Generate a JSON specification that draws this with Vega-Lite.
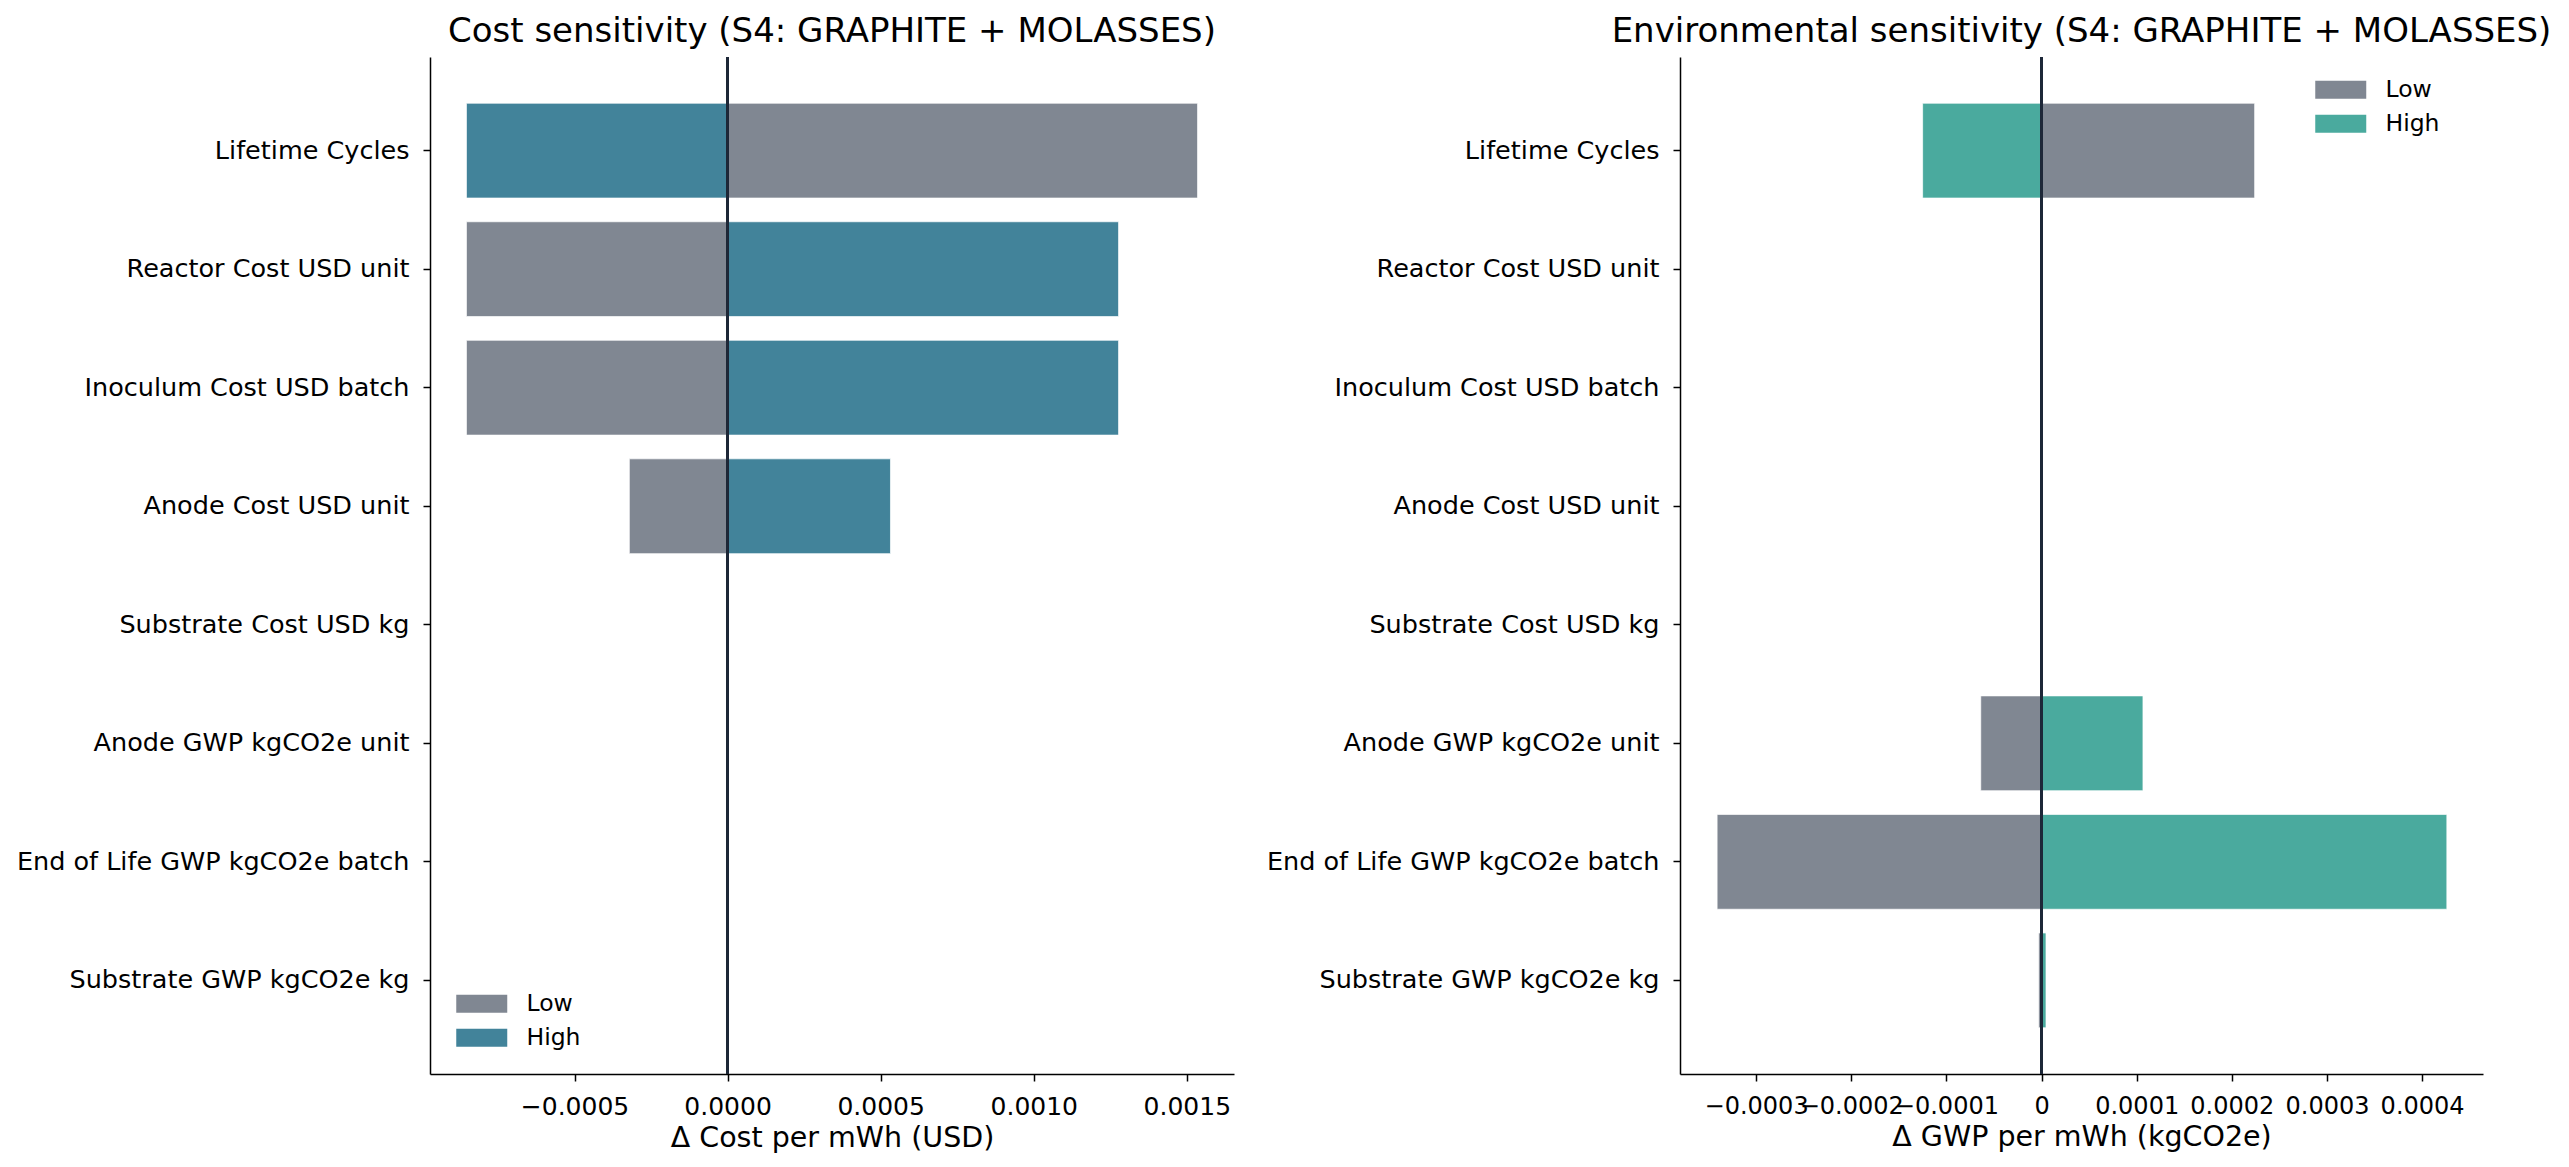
{
  "$schema": "https://vega.github.io/schema/vega-lite/v6.json",
  "background": "white",
  "padding": {"left": 16, "top": 15, "right": 5, "bottom": 5},
  "spacing": 32,
  "config": {
    "font": "DejaVu Sans",
    "view": {"stroke": null},
    "axis": {
      "domainColor": "black", "domainWidth": 1.5, "tickColor": "black", "tickWidth": 1.5, "tickSize": 7,
      "labelFont": "DejaVu Sans", "labelFontSize": 25, "labelColor": "black", "labelPadding": 7,
      "labelLimit": 1000, "labelOverlap": false,
      "titleFont": "DejaVu Sans", "titleFontSize": 28.5, "titleColor": "black", "titleFontWeight": "normal",
      "grid": false
    },
    "axisY": {"labelFontSize": 25.5, "labelPadding": 14},
    "axisX": {"labelPadding": 13, "titlePadding": 4},
    "title": {"font": "DejaVu Sans", "fontSize": 34, "fontWeight": "normal", "color": "black", "anchor": "middle", "baseline": "alphabetic", "offset": 7},
    "legend": {
      "orient": "none",
      "title": null,
      "labelFont": "DejaVu Sans", "labelFontSize": 23.5, "labelColor": "black",
      "symbolType": "M-2.833,-1L2.833,-1L2.833,1L-2.833,1Z",
      "symbolSize": 324, "symbolStrokeWidth": 0, "symbolOpacity": 1,
      "labelOffset": 33, "rowPadding": 9
    }
  },
  "datasets": {
    "cost": [
      {"param": "Lifetime Cycles", "case": "Low", "value": 0.001535},
      {"param": "Lifetime Cycles", "case": "High", "value": -0.000853},
      {"param": "Reactor Cost USD unit", "case": "Low", "value": -0.000853},
      {"param": "Reactor Cost USD unit", "case": "High", "value": 0.001277},
      {"param": "Inoculum Cost USD batch", "case": "Low", "value": -0.000853},
      {"param": "Inoculum Cost USD batch", "case": "High", "value": 0.001277},
      {"param": "Anode Cost USD unit", "case": "Low", "value": -0.000321},
      {"param": "Anode Cost USD unit", "case": "High", "value": 0.000532},
      {"param": "Substrate Cost USD kg", "case": "Low", "value": 0},
      {"param": "Substrate Cost USD kg", "case": "High", "value": 0},
      {"param": "Anode GWP kgCO2e unit", "case": "Low", "value": 0},
      {"param": "Anode GWP kgCO2e unit", "case": "High", "value": 0},
      {"param": "End of Life GWP kgCO2e batch", "case": "Low", "value": 0},
      {"param": "End of Life GWP kgCO2e batch", "case": "High", "value": 0},
      {"param": "Substrate GWP kgCO2e kg", "case": "Low", "value": 0},
      {"param": "Substrate GWP kgCO2e kg", "case": "High", "value": 0}
    ],
    "env": [
      {"param": "Lifetime Cycles", "case": "Low", "value": 0.000224},
      {"param": "Lifetime Cycles", "case": "High", "value": -0.000125},
      {"param": "Reactor Cost USD unit", "case": "Low", "value": 0},
      {"param": "Reactor Cost USD unit", "case": "High", "value": 0},
      {"param": "Inoculum Cost USD batch", "case": "Low", "value": 0},
      {"param": "Inoculum Cost USD batch", "case": "High", "value": 0},
      {"param": "Anode Cost USD unit", "case": "Low", "value": 0},
      {"param": "Anode Cost USD unit", "case": "High", "value": 0},
      {"param": "Substrate Cost USD kg", "case": "Low", "value": 0},
      {"param": "Substrate Cost USD kg", "case": "High", "value": 0},
      {"param": "Anode GWP kgCO2e unit", "case": "Low", "value": -0.0000639},
      {"param": "Anode GWP kgCO2e unit", "case": "High", "value": 0.0001066},
      {"param": "End of Life GWP kgCO2e batch", "case": "Low", "value": -0.000341},
      {"param": "End of Life GWP kgCO2e batch", "case": "High", "value": 0.000426},
      {"param": "Substrate GWP kgCO2e kg", "case": "Low", "value": -0.000003},
      {"param": "Substrate GWP kgCO2e kg", "case": "High", "value": 0.0000047}
    ]
  },
  "resolve": {"scale": {"color": "independent", "x": "independent", "y": "independent"}, "legend": {"color": "independent"}},
  "hconcat": [
    {
      "title": "Cost sensitivity (S4: GRAPHITE + MOLASSES)",
      "width": 804,
      "height": 1017,
      "data": {"name": "cost"},
      "layer": [
        {
          "mark": {"type": "bar", "stroke": "white", "strokeWidth": 1, "strokeOpacity": 0.7},
          "encoding": {
            "y": {"field": "param", "type": "nominal", "title": null,
                  "sort": ["Lifetime Cycles", "Reactor Cost USD unit", "Inoculum Cost USD batch", "Anode Cost USD unit", "Substrate Cost USD kg", "Anode GWP kgCO2e unit", "End of Life GWP kgCO2e batch", "Substrate GWP kgCO2e kg"],
                  "scale": {"paddingInner": 0.2, "paddingOuter": 0.39}},
            "x": {"field": "value", "type": "quantitative", "stack": null, "title": "Δ Cost per mWh (USD)",
                  "scale": {"domain": [-0.000972, 0.001654], "nice": false, "zero": false},
                  "axis": {"values": [-0.0005, 0, 0.0005, 0.001, 0.0015], "labelExpr": "replace(format(datum.value, '.4f'), '-', '−')"}},
            "color": {"field": "case", "type": "nominal",
                      "scale": {"domain": ["Low", "High"], "range": ["#808792", "#42839a"]},
                      "legend": {"legendX": 40, "legendY": 935}}
          }
        },
        {
          "mark": {"type": "rule", "color": "#1e2838", "strokeWidth": 2},
          "encoding": {"x": {"datum": 0}}
        }
      ]
    },
    {
      "title": "Environmental sensitivity (S4: GRAPHITE + MOLASSES)",
      "width": 803,
      "height": 1017,
      "data": {"name": "env"},
      "layer": [
        {
          "mark": {"type": "bar", "stroke": "white", "strokeWidth": 1, "strokeOpacity": 0.7},
          "encoding": {
            "y": {"field": "param", "type": "nominal", "title": null,
                  "sort": ["Lifetime Cycles", "Reactor Cost USD unit", "Inoculum Cost USD batch", "Anode Cost USD unit", "Substrate Cost USD kg", "Anode GWP kgCO2e unit", "End of Life GWP kgCO2e batch", "Substrate GWP kgCO2e kg"],
                  "scale": {"paddingInner": 0.2, "paddingOuter": 0.39}},
            "x": {"field": "value", "type": "quantitative", "stack": null, "title": "Δ GWP per mWh (kgCO2e)",
                  "scale": {"domain": [-0.00038, 0.000464], "nice": false, "zero": false},
                  "axis": {"values": [-0.0003, -0.0002, -0.0001, 0, 0.0001, 0.0002, 0.0003, 0.0004], "labelFontSize": 24, "labelExpr": "datum.value == 0 ? '0' : replace(format(datum.value, '.4f'), '-', '−')"}},
            "color": {"field": "case", "type": "nominal",
                      "scale": {"domain": ["Low", "High"], "range": ["#808792", "#4aaa9e"]},
                      "legend": {"legendX": 649, "legendY": 21}}
          }
        },
        {
          "mark": {"type": "rule", "color": "#1e2838", "strokeWidth": 2},
          "encoding": {"x": {"datum": 0}}
        }
      ]
    }
  ]
}
